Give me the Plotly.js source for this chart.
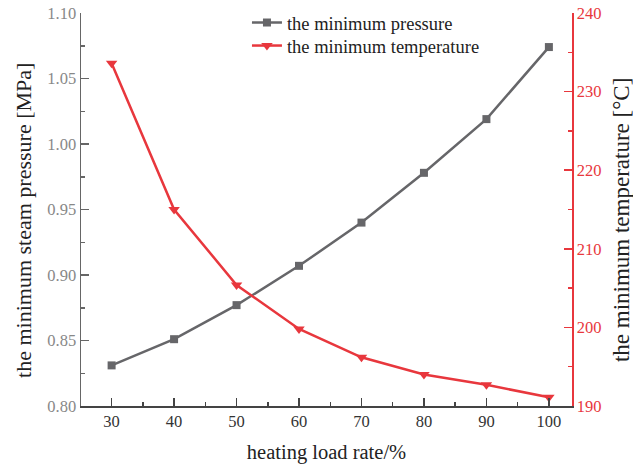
<!DOCTYPE html>
<html><head><meta charset="utf-8">
<script src="https://cdn.plot.ly/plotly-3.0.1.min.js"></script>
<style>html,body{margin:0;padding:0;background:#fff}#chart{width:633px;height:468px}</style>
</head><body><div id="chart"></div>
<script>
const loadRate = [30, 40, 50, 60, 70, 80, 90, 100];
const minPressure = [0.831, 0.851, 0.877, 0.907, 0.940, 0.978, 1.019, 1.074];
const minTemperature = [233.6, 215.0, 205.4, 199.8, 196.2, 194.0, 192.7, 191.1];
const pressureTicks = [0.80, 0.85, 0.90, 0.95, 1.00, 1.05, 1.10];
const tempTicks = [190, 200, 210, 220, 230, 240];
const xTicks = [30, 40, 50, 60, 70, 80, 90, 100];

const grey = '#666669';
const red = '#e8373d';
const font = 'Liberation Serif, Times New Roman, serif';

const traces = [
  {x: loadRate, y: minPressure, name: 'the minimum pressure', mode: 'lines+markers', legend: 'legend',
   line: {color: grey, width: 2.5}, marker: {symbol: 'square', size: 8, color: grey}, yaxis: 'y'},
  {x: loadRate, y: minTemperature, name: 'the minimum temperature', mode: 'lines+markers', legend: 'legend2',
   line: {color: red, width: 2.5}, marker: {symbol: 'triangle-down', size: 10, color: red}, yaxis: 'y2'}
];

const legFont = {family: font, size: 18.5, color: '#222'};
const layout = {
  width: 633, height: 468,
  margin: {l: 81, r: 61, t: 13, b: 62, autoexpand: false},
  paper_bgcolor: '#fff', plot_bgcolor: '#fff',
  font: {family: font, size: 16, color: '#222'},
  showlegend: true,
  legend: {x: 0.338, y: 0.9746, xanchor: 'left', yanchor: 'middle', bgcolor: 'rgba(0,0,0,0)', font: legFont},
  legend2: {x: 0.338, y: 0.916, xanchor: 'left', yanchor: 'middle', bgcolor: 'rgba(0,0,0,0)', font: legFont},
  xaxis: {range: [25.1, 103.7], tickvals: xTicks, ticktext: xTicks.map(String),
          ticks: 'inside', ticklen: 8, tickwidth: 1.5, tickcolor: '#444', showline: true, linecolor: '#444', linewidth: 1.5,
          showgrid: false, zeroline: false, tickfont: {family: font, size: 16.5, color: '#333'},
          minor: {dtick: 5, tick0: 25, ticks: 'inside', ticklen: 4, tickcolor: '#444', tickwidth: 1.5},
          title: {text: 'heating load rate/%', font: {family: font, size: 20.5, color: '#222'}, standoff: 14}},
  yaxis: {range: [0.80, 1.10], tickvals: pressureTicks, ticktext: pressureTicks.map(v => v.toFixed(2)),
          ticks: 'inside', ticklen: 8, tickwidth: 1.5, tickcolor: '#666', showline: true, linecolor: '#666', linewidth: 1.5,
          showgrid: false, zeroline: false, tickfont: {family: font, size: 16.5, color: '#888'},
          minor: {dtick: 0.025, tick0: 0.8, ticks: 'inside', ticklen: 4, tickcolor: '#666', tickwidth: 1.5}},
  yaxis2: {range: [190, 240], overlaying: 'y', side: 'right', tickvals: tempTicks, ticktext: tempTicks.map(String),
          ticks: 'inside', ticklen: 8, tickwidth: 1.5, tickcolor: red, showline: true, linecolor: red, linewidth: 1.5,
          showgrid: false, zeroline: false, tickfont: {family: font, size: 16.5, color: red},
          minor: {dtick: 5, tick0: 190, ticks: 'inside', ticklen: 4, tickcolor: red, tickwidth: 1.5}},
  annotations: [
    {text: 'the minimum steam pressure [MPa]', textangle: -90, xref: 'paper', yref: 'paper', x: 0, y: 0.471,
     xanchor: 'center', yanchor: 'middle', xshift: -57, showarrow: false, font: {family: font, size: 22, color: '#222'}},
    {text: 'the minimum temperature [°C]', textangle: -90, xref: 'paper', yref: 'paper', x: 1, y: 0.473,
     xanchor: 'center', yanchor: 'middle', xshift: 49, showarrow: false, font: {family: font, size: 23, color: '#222'}}
  ]
};

Plotly.newPlot('chart', traces, layout, {displayModeBar: false, staticPlot: true});
</script></body></html>
